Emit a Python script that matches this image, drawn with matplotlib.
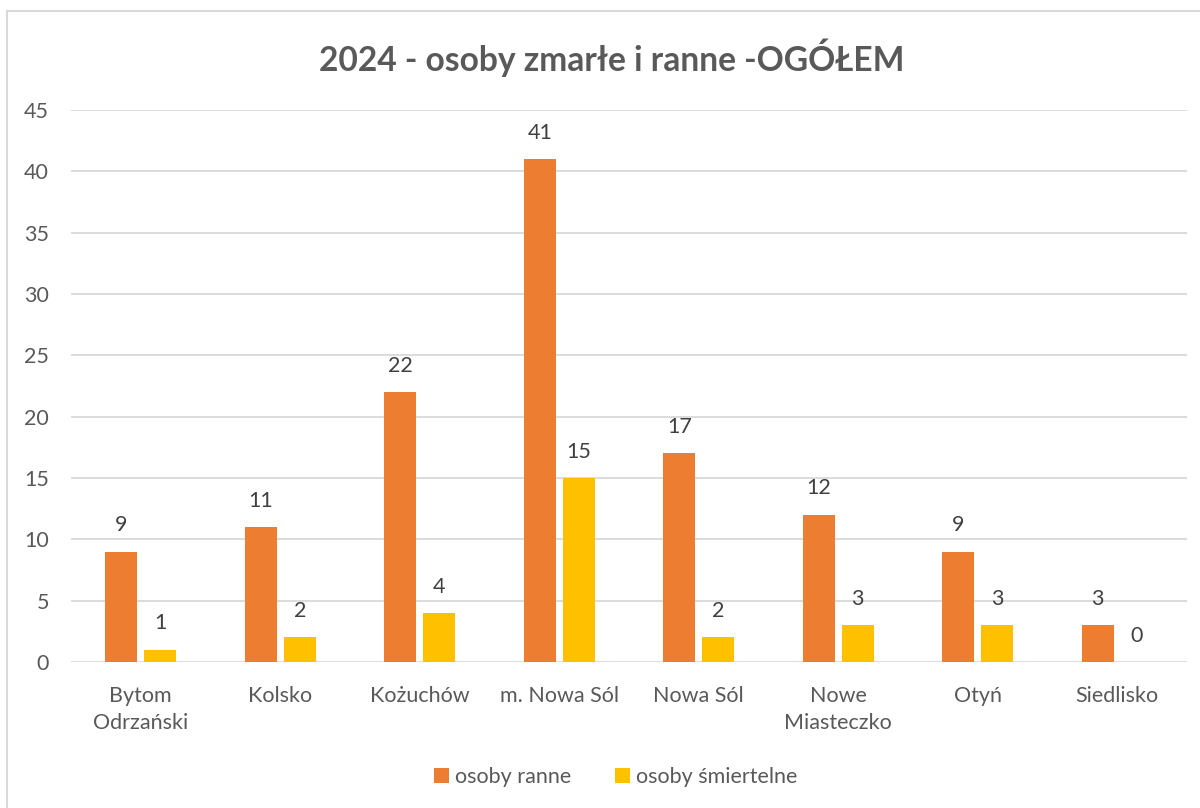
import matplotlib.pyplot as plt
from matplotlib.patches import Rectangle
import numpy as np

categories = ["Bytom\nOdrzański", "Kolsko", "Kożuchów", "m. Nowa Sól",
              "Nowa Sól", "Nowe\nMiasteczko", "Otyń", "Siedlisko"]
ranne = [9, 11, 22, 41, 17, 12, 9, 3]
smiertelne = [1, 2, 4, 15, 2, 3, 3, 0]

plt.rcParams['font.family'] = ['Lato', 'DejaVu Sans']
txt = '#595959'
grid = '#D9D9D9'

fig = plt.figure(figsize=(12, 8.08), dpi=100)
ax = fig.add_axes([0.0592, 0.1807, 0.9300, 0.6832])

x = np.arange(len(categories))
off = 0.14
w = 0.23
b1 = ax.bar(x - off, ranne, w, color='#ED7D31', label='osoby ranne', zorder=3)
b2 = ax.bar(x + off, smiertelne, w, color='#FFC000', label='osoby śmiertelne', zorder=3)

for bars, vals in ((b1, ranne), (b2, smiertelne)):
    for r, v in zip(bars, vals):
        ax.annotate(str(v), (r.get_x() + r.get_width() / 2, v),
                    xytext=(0, 19), textcoords='offset points',
                    ha='center', va='center', fontsize=15.5, color='#404040')

ax.set_xlim(-0.5, len(categories) - 0.5)
ax.set_ylim(0, 45)
ax.set_yticks(range(0, 46, 5))
ax.set_xticks(x)
ax.set_xticklabels(categories, linespacing=1.45)
ax.tick_params(axis='both', length=0, labelsize=15.5, labelcolor=txt)
ax.tick_params(axis='x', pad=17)
ax.tick_params(axis='y', pad=16)
ax.grid(axis='y', color=grid, linewidth=1.3, zorder=0)
for s in ax.spines.values():
    s.set_visible(False)

fig.text(0.51, 0.929, "2024 - osoby zmarłe i ranne -OGÓŁEM", ha='center', va='center',
         fontsize=24.2, fontweight='bold', color=txt)

fig.legend(handles=[b1, b2], loc='center', bbox_to_anchor=(0.513, 0.038), ncol=2,
           frameon=False, fontsize=15.5, labelcolor=txt, handlelength=0.7,
           handleheight=0.7, handletextpad=0.3, columnspacing=2.0)

fig.patches.append(Rectangle((0.0058, -0.1), 1.2, 0.986 + 0.1, transform=fig.transFigure,
                             fill=False, edgecolor=grid, linewidth=1.5))

plt.savefig("out.png", dpi=100)
